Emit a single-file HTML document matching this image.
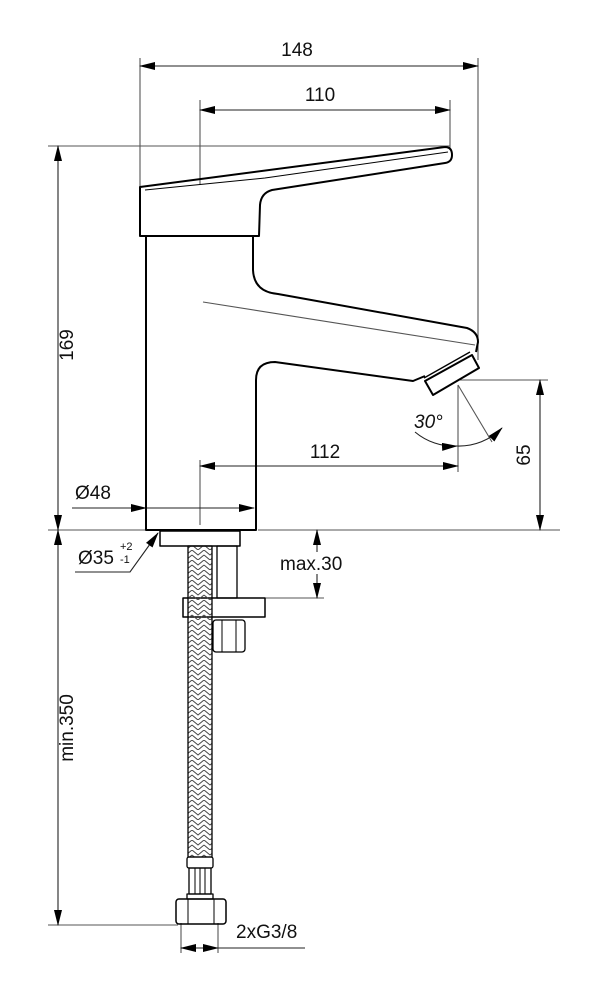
<!DOCTYPE html>
<html><head><meta charset="utf-8"><style>
html,body{margin:0;padding:0;background:#fff}
svg{display:block}
text{font-family:"Liberation Sans",sans-serif;fill:#111}
</style></head><body>
<svg width="604" height="1000" viewBox="0 0 604 1000" xmlns="http://www.w3.org/2000/svg">
<defs>
<marker id="a" markerWidth="16" markerHeight="8" refX="15" refY="4" orient="auto" markerUnits="userSpaceOnUse">
<path d="M0,0 L16,4 L0,8 Z" fill="#000"/></marker>
<marker id="b" markerWidth="16" markerHeight="8" refX="1" refY="4" orient="auto" markerUnits="userSpaceOnUse">
<path d="M16,0 L0,4 L16,8 Z" fill="#000"/></marker>
<pattern id="br" width="12" height="10" patternUnits="userSpaceOnUse">
<path d="M0,0 L6,5 L12,0 M0,5 L6,10 L12,5" stroke="#444" stroke-width="1" fill="none"/></pattern>
</defs>
<g stroke="#555" stroke-width="1.1" fill="none">
<line x1="140" y1="58" x2="140" y2="190"/>
<line x1="478" y1="58" x2="478" y2="360"/>
<line x1="200" y1="100" x2="200" y2="185"/>
<line x1="450" y1="100" x2="450" y2="150"/>
<line x1="48" y1="146" x2="450" y2="146"/>
<line x1="48" y1="530" x2="146" y2="530"/>
<line x1="258" y1="530" x2="560" y2="530"/>
<line x1="460" y1="380" x2="548" y2="380"/>
<line x1="200" y1="460" x2="200" y2="525"/>
<line x1="458" y1="385" x2="458" y2="472"/>
<line x1="458" y1="385" x2="492" y2="442"/>
<line x1="265" y1="598" x2="324" y2="598"/>
<line x1="48" y1="925" x2="178" y2="925"/>
<line x1="181" y1="923" x2="181" y2="953"/>
<line x1="218" y1="923" x2="218" y2="953"/>
<line x1="203" y1="302" x2="475" y2="345"/>
</g>
<g stroke="#222" stroke-width="1.1" fill="none">
<line x1="140" y1="66" x2="478" y2="66" marker-start="url(#b)" marker-end="url(#a)"/>
<line x1="200" y1="110" x2="450" y2="110" marker-start="url(#b)" marker-end="url(#a)"/>
<line x1="58" y1="146" x2="58" y2="530" marker-start="url(#b)" marker-end="url(#a)"/>
<line x1="58" y1="530" x2="58" y2="925" marker-start="url(#b)" marker-end="url(#a)"/>
<line x1="540" y1="380" x2="540" y2="530" marker-start="url(#b)" marker-end="url(#a)"/>
<line x1="200" y1="466" x2="458" y2="466" marker-start="url(#b)" marker-end="url(#a)"/>
<line x1="72" y1="508" x2="146" y2="508" marker-end="url(#a)"/>
<line x1="146" y1="508" x2="254" y2="508" marker-end="url(#a)"/>
<line x1="317" y1="530" x2="317" y2="598" marker-start="url(#b)" marker-end="url(#a)"/>
<line x1="181" y1="948" x2="200" y2="948" marker-start="url(#b)"/>
<line x1="200" y1="948" x2="218" y2="948" marker-end="url(#a)"/>
<line x1="218" y1="948" x2="305" y2="948"/>
<polyline points="75,572 130,572 158,533" marker-end="url(#a)"/>
<path d="M415,432 A60,60 0 0 0 457,446" marker-end="url(#a)"/>
<path d="M457,446 A60,60 0 0 0 502,428" marker-end="url(#a)"/>
</g>
<g stroke="#000" stroke-width="2" fill="none" stroke-linejoin="round">
<path d="M140,187 L445,147 Q452,147 452,155 Q452,162 445,163 L272,190 Q261,193 260,205 L259,236 L140,236 Z"/>
<path d="M145,190 L265,178 L448,152" stroke-width="1"/>
<path d="M146,236 L146,530 L256,530 L256,380 Q256,362 275,362 L413,381 L425,376"/>
<path d="M253,236 L253,270 Q254,292 278,294 L467,328 Q478,332 478,342 L476,352"/>
<path d="M425,381 L472,355 L479,368 L433,395 Z"/>
<line x1="424" y1="378" x2="470" y2="352" stroke-width="1.3"/>
<rect x="160" y="531" width="80" height="15" stroke-width="1.5"/>
<rect x="217" y="546" width="20" height="52" stroke-width="1.3"/>
<rect x="183" y="598" width="82" height="19" stroke-width="1.5"/>
<rect x="213" y="620" width="32" height="32" rx="3" stroke-width="1.3"/>
<line x1="222" y1="620" x2="222" y2="652" stroke-width="1"/>
<line x1="236" y1="620" x2="236" y2="652" stroke-width="1"/>
<rect x="188" y="546" width="24" height="311" fill="url(#br)" stroke-width="1.3"/>
<rect x="187" y="857" width="26" height="11" rx="2" stroke-width="1.3"/>
<rect x="189" y="868" width="22" height="26" stroke-width="1.3"/>
<path d="M195,868 V894 M200,868 V894 M205,868 V894" stroke-width="1"/>
<rect x="187" y="894" width="26" height="5" stroke-width="1.3"/>
<rect x="176" y="899" width="50" height="25" rx="3" stroke-width="1.5"/>
<line x1="188" y1="899" x2="188" y2="924" stroke-width="1"/>
<line x1="214" y1="899" x2="214" y2="924" stroke-width="1"/>
</g>
<rect x="279" y="552" width="74" height="22" fill="#fff"/>
<g font-size="19">
<text x="297" y="56" text-anchor="middle">148</text>
<text x="320" y="101" text-anchor="middle">110</text>
<text x="325" y="458" text-anchor="middle">112</text>
<text x="75" y="499">Ø48</text>
<text x="78" y="564">Ø35</text>
<text x="120" y="550" font-size="11">+2</text>
<text x="120" y="563" font-size="11">-1</text>
<text x="280" y="570">max.30</text>
<text x="236" y="938">2xG3/8</text>
<text x="414" y="428" font-style="italic">30°</text>
<text transform="translate(73,345) rotate(-90)" text-anchor="middle">169</text>
<text transform="translate(73,728) rotate(-90)" text-anchor="middle">min.350</text>
<text transform="translate(530,455) rotate(-90)" text-anchor="middle">65</text>
</g>
</svg>
</body></html>
